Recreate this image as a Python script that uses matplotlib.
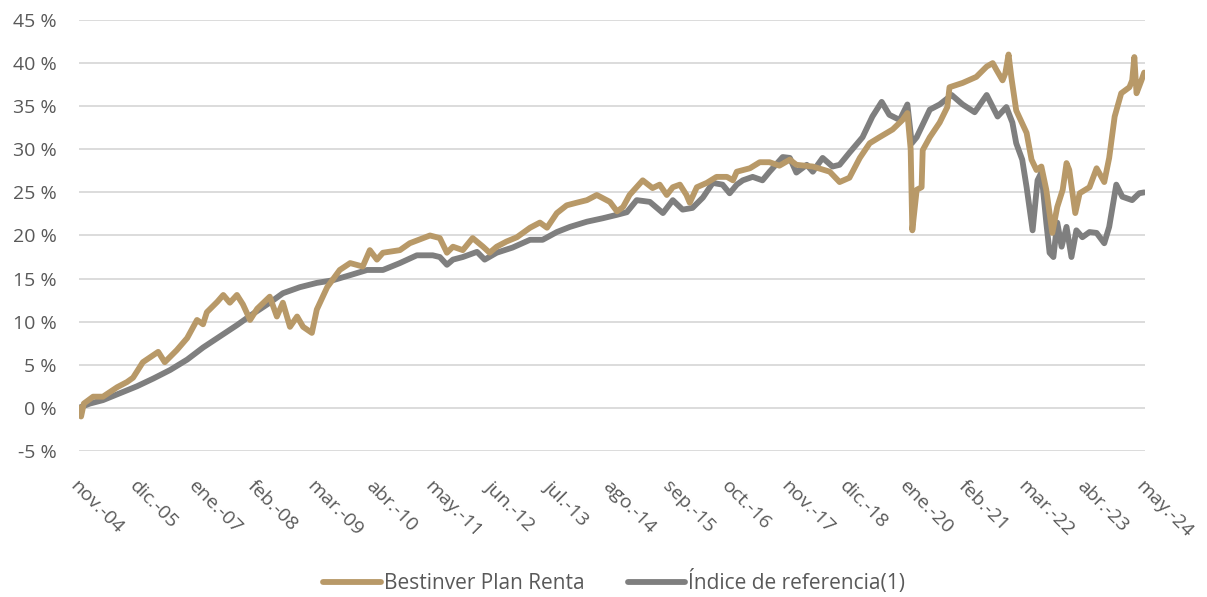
import matplotlib
matplotlib.use('Agg')
import numpy as np
import matplotlib.pyplot as plt
from matplotlib.transforms import ScaledTranslation

# time in decimal years (nov-04 = 2004.833), values in %
gold_t = [2004.83, 2004.87, 2004.92, 2005.09, 2005.27, 2005.53, 2005.71, 2005.82, 2006.00,
          2006.28, 2006.40, 2006.62, 2006.81, 2006.99, 2007.10, 2007.17, 2007.36, 2007.47,
          2007.59, 2007.72, 2007.83, 2007.96, 2008.09, 2008.32, 2008.45, 2008.56, 2008.69,
          2008.82, 2008.93, 2009.09, 2009.18, 2009.37, 2009.60, 2009.79, 2010.02, 2010.15,
          2010.28, 2010.39, 2010.70, 2010.88, 2011.25, 2011.43, 2011.56, 2011.67, 2011.85,
          2012.03, 2012.22, 2012.34, 2012.47, 2012.65, 2012.84, 2013.08, 2013.26, 2013.39,
          2013.57, 2013.75, 2013.93, 2014.12, 2014.30, 2014.54, 2014.67, 2014.78, 2014.90,
          2015.14, 2015.32, 2015.45, 2015.58, 2015.69, 2015.82, 2015.94, 2016.00, 2016.13,
          2016.31, 2016.49, 2016.68, 2016.79, 2016.86, 2017.10, 2017.28, 2017.46, 2017.64,
          2017.83, 2017.95, 2018.25, 2018.56, 2018.74, 2018.92, 2019.11, 2019.29, 2019.47,
          2019.71, 2019.89, 2019.98, 2020.04, 2020.07, 2020.15, 2020.24, 2020.26, 2020.39,
          2020.57, 2020.71, 2020.75, 2020.99, 2021.24, 2021.43, 2021.54, 2021.61, 2021.72,
          2021.77, 2021.83, 2021.88, 2021.97, 2022.16, 2022.25, 2022.34, 2022.43, 2022.52,
          2022.63, 2022.72, 2022.82, 2022.89, 2022.94, 2023.05, 2023.13, 2023.31, 2023.44,
          2023.58, 2023.67, 2023.77, 2023.89, 2024.04, 2024.09, 2024.13, 2024.17, 2024.26, 2024.31]
gold_v = [0.0, -1.0, 0.5, 1.3, 1.3, 2.4, 3.0, 3.5, 5.3,
          6.5, 5.3, 6.7, 8.1, 10.2, 9.7, 11.1, 12.3, 13.1,
          12.2, 13.1, 12.0, 10.2, 11.5, 12.9, 10.6, 12.2, 9.4,
          10.6, 9.4, 8.7, 11.4, 14.0, 16.0, 16.8, 16.4, 18.3,
          17.2, 18.0, 18.3, 19.1, 20.0, 19.7, 18.0, 18.7, 18.3,
          19.7, 18.7, 18.0, 18.7, 19.3, 19.8, 20.9, 21.5, 20.9,
          22.6, 23.5, 23.8, 24.1, 24.7, 23.9, 22.8, 23.3, 24.7,
          26.4, 25.5, 25.9, 24.7, 25.6, 25.9, 24.7, 23.8, 25.6,
          26.1, 26.8, 26.8, 26.4, 27.4, 27.8, 28.5, 28.5, 28.1,
          28.8, 28.2, 28.0, 27.4, 26.2, 26.7, 29.0, 30.7, 31.4,
          32.3, 33.4, 34.2, 30.0, 20.6, 25.3, 25.6, 29.9, 31.4,
          33.1, 34.9, 37.2, 37.7, 38.4, 39.6, 40.0, 39.2, 38.0,
          38.8, 41.0, 38.4, 34.5, 31.9, 28.8, 27.6, 28.0, 25.3,
          20.3, 23.3, 25.3, 28.4, 27.6, 22.6, 24.9, 25.6, 27.8,
          26.2, 29.0, 33.8, 36.5, 37.2, 38.0, 40.7, 36.5, 38.0, 38.9]

grey_t = [2004.83, 2005.03, 2005.27, 2005.58, 2005.89, 2006.19, 2006.50, 2006.81, 2007.10, 2007.41,
          2007.72, 2008.01, 2008.32, 2008.56, 2008.87, 2009.18, 2009.47, 2009.79, 2010.10, 2010.39,
          2010.70, 2011.01, 2011.30, 2011.43, 2011.56, 2011.67, 2011.85, 2012.11, 2012.25, 2012.47,
          2012.76, 2013.08, 2013.31, 2013.57, 2013.81, 2014.12, 2014.41, 2014.67, 2014.85, 2015.03,
          2015.27, 2015.51, 2015.69, 2015.87, 2016.05, 2016.24, 2016.42, 2016.60, 2016.73, 2016.86,
          2016.97, 2017.15, 2017.33, 2017.46, 2017.70, 2017.83, 2017.95, 2018.14, 2018.25, 2018.43,
          2018.61, 2018.74, 2018.92, 2019.16, 2019.34, 2019.51, 2019.65, 2019.84, 2019.98, 2020.06,
          2020.15, 2020.39, 2020.57, 2020.79, 2020.99, 2021.21, 2021.43, 2021.63, 2021.79, 2021.90,
          2021.97, 2022.08, 2022.16, 2022.27, 2022.36, 2022.43, 2022.52, 2022.58, 2022.65, 2022.72,
          2022.80, 2022.89, 2022.98, 2023.07, 2023.18, 2023.31, 2023.44, 2023.58, 2023.67, 2023.80,
          2023.91, 2024.09, 2024.22, 2024.31]
grey_v = [0.0, 0.5, 0.9, 1.7, 2.5, 3.4, 4.4, 5.6, 7.0, 8.3,
          9.6, 10.9, 12.2, 13.3, 14.0, 14.5, 14.8, 15.4, 16.0, 16.0,
          16.8, 17.7, 17.7, 17.5, 16.6, 17.2, 17.5, 18.1, 17.2, 18.0,
          18.6, 19.5, 19.5, 20.4, 21.0, 21.6, 22.0, 22.4, 22.7, 24.1,
          23.9, 22.6, 24.1, 23.0, 23.2, 24.4, 26.1, 25.9, 24.9, 25.9,
          26.4, 26.8, 26.4, 27.4, 29.1, 29.0, 27.3, 28.2, 27.4, 29.0,
          28.0, 28.2, 29.6, 31.4, 33.8, 35.5, 34.0, 33.4, 35.2, 30.7,
          31.4, 34.6, 35.2, 36.3, 35.2, 34.3, 36.3, 33.8, 34.9, 33.1,
          30.7, 28.8, 25.6, 20.6, 26.4, 27.3, 21.5, 18.0, 17.5, 21.5,
          18.7, 21.0, 17.5, 20.6, 19.8, 20.4, 20.3, 19.1, 21.0, 25.9,
          24.5, 24.1, 24.9, 25.0]

tick_labels = ['nov.-04', 'dic.-05', 'ene.-07', 'feb.-08', 'mar.-09', 'abr.-10', 'may.-11',
               'jun.-12', 'jul.-13', 'ago.-14', 'sep.-15', 'oct.-16', 'nov.-17', 'dic.-18',
               'ene.-20', 'feb.-21', 'mar.-22', 'abr.-23', 'may.-24']
series_names = ['Bestinver Plan Renta', 'Índice de referencia(1)']

plt.rcParams['font.family'] = ['Open Sans', 'DejaVu Sans']

fig = plt.figure(figsize=(12.07, 5.97), dpi=100)
ax = fig.add_axes([0.0655, 0.2446, 0.8835, 0.7219])

ax.plot(gold_t, gold_v, color='#B89968', lw=4.2, solid_joinstyle='round',
        solid_capstyle='round', label=series_names[0], zorder=3)
ax.plot(grey_t, grey_v, color='#7F7F7F', lw=4.2, solid_joinstyle='round',
        solid_capstyle='round', label=series_names[1], zorder=2)

ticks = [2004.833 + 13 * i / 12 for i in range(len(tick_labels))]
ax.set_xlim(ticks[0], ticks[-1])
ax.set_xticks(ticks)
ax.set_xticklabels(tick_labels, rotation=-45, ha='left', va='top',
                   rotation_mode='anchor', fontsize=14, color='#595959')
shift = ScaledTranslation(4 / 72, 0, fig.dpi_scale_trans)
for lbl in ax.get_xticklabels():
    lbl.set_transform(lbl.get_transform() + shift)
ax.set_ylim(-5, 45)
ax.set_yticks(range(-5, 50, 5))
ax.set_yticklabels([f'{v} %' for v in range(-5, 50, 5)], fontsize=14, color='#595959')
ax.tick_params(length=0)
ax.tick_params(axis='x', pad=19)
ax.tick_params(axis='y', pad=16)
ax.grid(axis='y', color='#D9D9D9', lw=1.3)
ax.set_axisbelow(True)
for s in ax.spines.values():
    s.set_visible(False)

fig.legend(loc='center', bbox_to_anchor=(0.509, 0.025), ncol=2, frameon=False,
           fontsize=15, handlelength=2.75, handletextpad=0.15, columnspacing=2.1,
           labelcolor='#595959')

fig.savefig('out.png', dpi=100)
